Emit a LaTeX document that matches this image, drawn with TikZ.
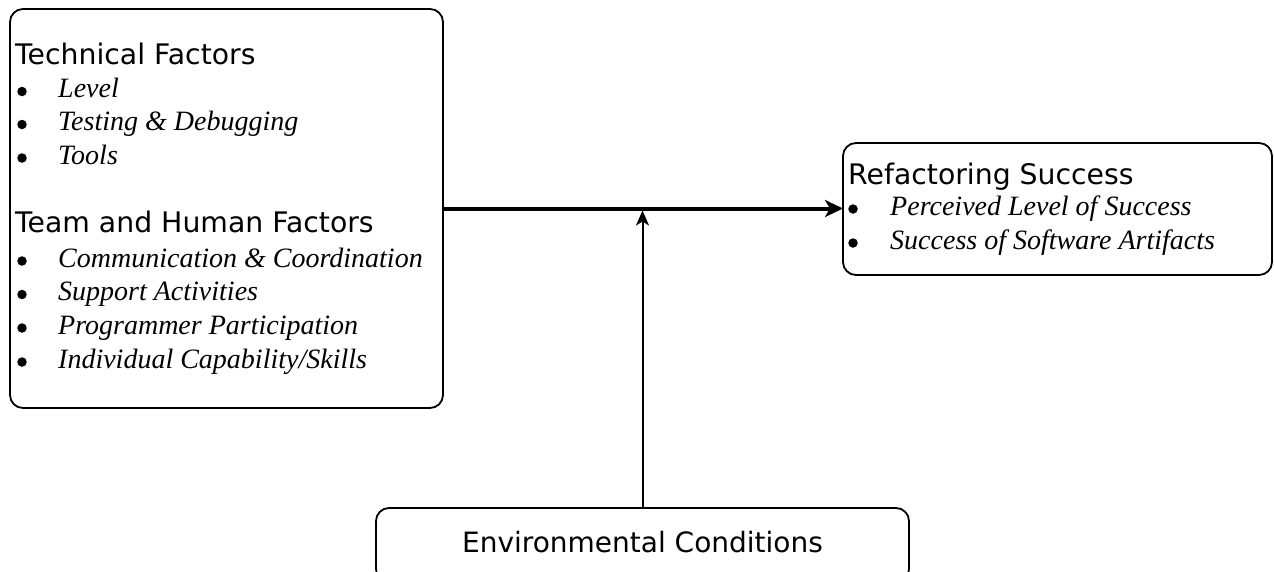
\documentclass[tikz,border=0pt]{standalone}
\usepackage{fontspec}
\setmainfont{Liberation Serif}
\newfontfamily\hfont{DejaVu Sans}
\usetikzlibrary{arrows.meta}
\begin{document}
\begin{tikzpicture}[x=1pt,y=-1pt,
  box/.style={draw=black, line width=1.8pt, rounded corners=13pt, inner sep=0pt, outer sep=0pt},
  head/.style={anchor=base west, inner sep=0pt, font=\hfont\fontsize{28.3}{30}\selectfont},
  item/.style={anchor=base west, inner sep=0pt, font=\itshape\fontsize{28}{30}\selectfont},
  bul/.style={circle, fill=black, inner sep=0pt, minimum size=9.5pt},
  mainarrow/.style={line width=4pt, -{Stealth[length=18pt,width=17pt,inset=5pt]}},
  envarrow/.style={line width=2pt, -{Stealth[length=15pt,width=13pt,inset=4pt]}}]
\useasboundingbox (0,0) rectangle (1274,571);
\fill[white] (0,0) rectangle (1274,571);

% boxes
\node[box, minimum width=433pt, minimum height=399pt] (L) at (226.5,208.5) {};
\node[box, minimum width=429pt, minimum height=132pt] (R) at (1057.5,209) {};
\node[box, minimum width=533pt, minimum height=74pt] (E) at (642.5,545) {};

% left box text
\node[head] (t1) at (15,64) {Technical Factors};
\node[bul] (b1) at (22,91.5) {};
\node[item] (i1) at (58,97.7) {Level};
\node[bul] (b2) at (22,124.5) {};
\node[item] (i2) at (58,130.5) {Testing \& Debugging};
\node[bul] (b3) at (22,158) {};
\node[item] (i3) at (58,164) {Tools};
\node[head] (t2) at (15,232) {Team and Human Factors};
\node[bul] (b4) at (22,261) {};
\node[item] (i4) at (58,267) {Communication \& Coordination};
\node[bul] (b5) at (22,294.5) {};
\node[item] (i5) at (58,300.5) {Support Activities};
\node[bul] (b6) at (22,328) {};
\node[item] (i6) at (58,334) {Programmer Participation};
\node[bul] (b7) at (22,362) {};
\node[item] (i7) at (58,368) {Individual Capability/Skills};

% right box text
\node[head] (t3) at (848,184) {Refactoring Success};
\node[bul] (b8) at (853,209) {};
\node[item] (i8) at (890,215) {Perceived Level of Success};
\node[bul] (b9) at (853,243) {};
\node[item] (i9) at (890,249) {Success of Software Artifacts};

% bottom box text
\node[anchor=base, inner sep=0pt, font=\hfont\fontsize{28}{30}\selectfont] (t4) at (642.5,552) {Environmental Conditions};

% connectors
\draw[mainarrow] (L.east) -- (L.east -| R.west);
\coordinate (J) at (E.north |- L.east);
\draw[envarrow, shorten >=2pt] (E.north) -- (J);
\end{tikzpicture}
\end{document}
